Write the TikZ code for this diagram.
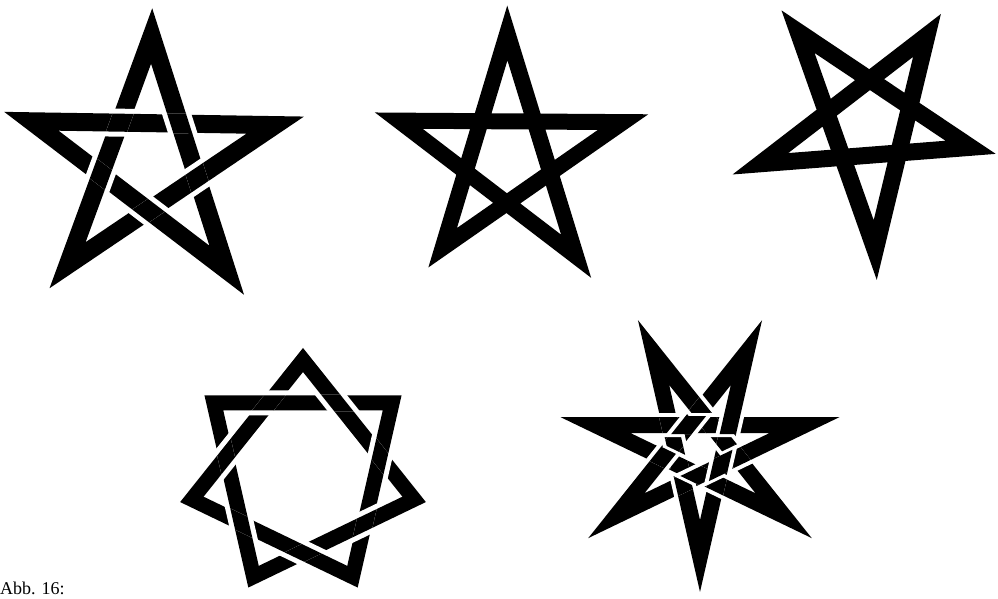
\documentclass[tikz,border=0pt]{standalone}
\usepackage{fontspec}
\newfontfamily\capfont{Liberation Serif}
\usetikzlibrary{calc}

\def\gapw{5}
% #1--#2 runs over #3--#4, stroke width #5 (pt)
\newcommand{\overcross}[5]{%
  \coordinate (cx) at (intersection of #1--#2 and #3--#4);
  \pgfmathsetlengthmacro{\cliph}{#5/2+1}%
  \pgfmathsetlengthmacro{\whitew}{#5+2*\gapw}%
  \begin{scope}
    \clip ($(cx)!40pt!(#4)!\cliph!90:(cx)$) -- ($(cx)!40pt!(#4)!\cliph!-90:(cx)$)
      -- ($(cx)!40pt!(#3)!\cliph!90:(cx)$) -- ($(cx)!40pt!(#3)!\cliph!-90:(cx)$) -- cycle;
    \draw[white, line width=\whitew] (#1) -- (#2);
    \draw[black, line width=#5pt] (#1) -- (#2);
  \end{scope}}

\begin{document}
\begin{tikzpicture}[x=1pt, y=-1pt,
    inkline/.style={draw=black, line width=#1, line join=miter, miter limit=10}
]
\fill[white] (0,0) rectangle (998,599);
\useasboundingbox (0,0) rectangle (998,599);

% Star 1: interlaced pentagram
\coordinate (s1c) at (150,163);
\foreach \n/\x/\y in {T/152/8, BL/50/287, R/302/117, L/5/112, BR/243/293}
  \coordinate (s1\n) at ($(\x,\y)!28pt!(s1c)$);
\draw[inkline=18pt] (s1T) -- (s1BL) -- (s1R) -- (s1L) -- (s1BR) -- cycle;
\overcross{s1R}{s1L}{s1T}{s1BL}{18}
\overcross{s1BR}{s1T}{s1R}{s1L}{18}
\overcross{s1BL}{s1R}{s1BR}{s1T}{18}
\overcross{s1L}{s1BR}{s1BL}{s1R}{18}
\overcross{s1T}{s1BL}{s1L}{s1BR}{18}

% Star 2: plain pentagram
\coordinate (s2c) at (509,156);
\foreach \n/\x/\y in {T/507/8, BL/428/268, R/647/115, L/375/113, BR/590/277}
  \coordinate (s2\n) at ($(\x,\y)!25pt!(s2c)$);
\draw[inkline=16pt] (s2T) -- (s2BL) -- (s2R) -- (s2L) -- (s2BR) -- cycle;

% Star 3: inverted pentagram
\coordinate (s3c) at (867,125);
\foreach \n/\x/\y in {TL/782/10, R/997/153, L/735/173, TR/942/13, B/877/277}
  \coordinate (s3\n) at ($(\x,\y)!27pt!(s3c)$);
\draw[inkline=17pt] (s3TL) -- (s3R) -- (s3L) -- (s3TR) -- (s3B) -- cycle;

% Star 4: interlaced heptagram {7/2}
\foreach \k in {0,...,6}
  \coordinate (s4v\k) at ($(303,474)+({-90+\k*360/7}:114)$);
\draw[inkline=15pt] (s4v0) -- (s4v2) -- (s4v4) -- (s4v6) -- (s4v1) -- (s4v3) -- (s4v5) -- cycle;
\foreach \k in {0,...,6} {
  \pgfmathtruncatemacro{\ka}{mod(\k+1,7)}
  \pgfmathtruncatemacro{\kb}{mod(\k+3,7)}
  \pgfmathtruncatemacro{\kc}{mod(\k+2,7)}
  \overcross{s4v\ka}{s4v\kb}{s4v\k}{s4v\kc}{15}
}

% Star 5: interlaced heptagram {7/3}
\def\gapw{4}
\foreach \k in {0,...,6}
  \coordinate (s5v\k) at ($(700,449)+({90+\k*360/7}:107)$);
\draw[inkline=16pt] (s5v0) -- (s5v3) -- (s5v6) -- (s5v2) -- (s5v5) -- (s5v1) -- (s5v4) -- cycle;
\foreach \j in {0,...,6} {
  \pgfmathtruncatemacro{\ja}{mod(3*\j,7)}
  \pgfmathtruncatemacro{\jb}{mod(3*\j+3,7)}
  \pgfmathtruncatemacro{\jc}{mod(3*\j+12,7)}
  \pgfmathtruncatemacro{\jd}{mod(3*\j+15,7)}
  \pgfmathtruncatemacro{\je}{mod(3*\j+18,7)}
  \overcross{s5v\ja}{s5v\jb}{s5v\jc}{s5v\jd}{16}
  \overcross{s5v\ja}{s5v\jb}{s5v\jd}{s5v\je}{16}
}

\node[anchor=base west, inner sep=0pt, font=\capfont\fontsize{18}{20}\selectfont] (caption) at (0,594) {Abb. 16:};
\end{tikzpicture}
\end{document}
